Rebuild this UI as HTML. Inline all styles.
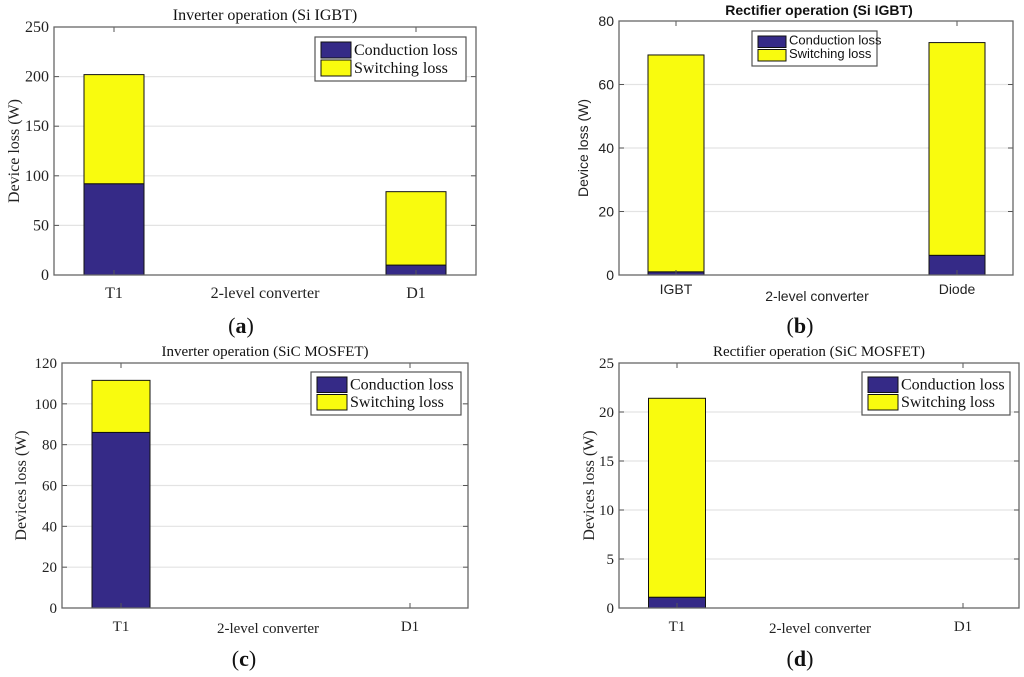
<!DOCTYPE html>
<html><head><meta charset="utf-8"><style>
body{margin:0;background:#fff;width:1024px;height:677px;overflow:hidden}
svg{display:block}
</style></head><body>
<svg id="fig" width="1024" height="677" xmlns="http://www.w3.org/2000/svg"></svg>
<script>
// Panel (a)
const aCats=["T1","D1"];
const aCond=[92,10];
const aSw=[110,74];
const aTicks=[0,50,100,150,200,250];
// Panel (b)
const bCats=["IGBT","Diode"];
const bCond=[1,6.2];
const bSw=[68.3,67];
const bTicks=[0,20,40,60,80];
// Panel (c)
const cCats=["T1","D1"];
const cCond=[86,0];
const cSw=[25.5,0];
const cTicks=[0,20,40,60,80,100,120];
// Panel (d)
const dCats=["T1","D1"];
const dCond=[1.1,0];
const dSw=[20.3,0];
const dTicks=[0,5,10,15,20,25];

const NS="http://www.w3.org/2000/svg";
const svg=document.getElementById('fig');
function el(tag,attrs,parent,text){const e=document.createElementNS(NS,tag);for(const k in attrs)e.setAttribute(k,attrs[k]);if(text!==undefined)e.textContent=text;(parent||svg).appendChild(e);return e;}

function panel(o){
  const g=el('g',{});
  
  
  const ymax=o.ticks[o.ticks.length-1];
  const y=v=>o.bottom-(v/ymax)*(o.bottom-o.top);
  const x=i=>o.catX[i];
  o.ticks.forEach(t=>{
    if(t>0&&t<ymax){const l=el('line',{x1:o.left,x2:o.right,y1:y(t),y2:y(t),stroke:'#e3e3e3','stroke-width':1.2},g);
    }
    const tk=el('line',{x1:o.left,x2:o.left+5,y1:y(t),y2:y(t),stroke:'#555'},g);
    
    const tk2=el('line',{x1:o.right,x2:o.right-5,y1:y(t),y2:y(t),stroke:'#555'},g);
    
    const tl=el('text',{x:o.left-5,y:y(t)+5,'text-anchor':'end','font-family':o.font,'font-size':o.fs,fill:'#222'},g,String(t));
    
  });
  o.cats.forEach((c,i)=>{
    const cx=x(i);
    if(o.cond[i]+o.sw[i]>0){
      const r1=el('rect',{x:cx-o.bw/2,y:y(o.cond[i]),width:o.bw,height:y(0)-y(o.cond[i]),fill:'#352a87',stroke:'#111','stroke-width':1},g);
      
      const r2=el('rect',{x:cx-o.bw/2,y:y(o.cond[i]+o.sw[i]),width:o.bw,height:y(o.cond[i])-y(o.cond[i]+o.sw[i]),fill:'#f9fb0e',stroke:'#111','stroke-width':1},g);
      
    }
    const t1=el('line',{x1:cx,x2:cx,y1:o.bottom,y2:o.bottom-5,stroke:'#555'},g);
    
    const t2=el('line',{x1:cx,x2:cx,y1:o.top,y2:o.top+5,stroke:'#555'},g);
    
    const xl=el('text',{x:cx,y:o.xlY,'text-anchor':'middle','font-family':o.font,'font-size':o.fs,fill:'#222'},g,c);
    
  });
  const box=el('rect',{x:o.left,y:o.top,width:o.right-o.left,height:o.bottom-o.top,fill:'none',stroke:'#666','stroke-width':1.3},g);
  
  const tt=el('text',{x:o.titleX,y:o.titleY,'text-anchor':'middle','font-family':o.font,'font-size':o.tfs||o.fs,'font-weight':o.tw||'normal',fill:'#111'},g,o.title);
  
  const xt=el('text',{x:o.xtX,y:o.xtY,'text-anchor':'middle','font-family':o.font,'font-size':o.fs,fill:'#222'},g,'2-level converter');
  
  const yt=el('text',{x:0,y:0,'text-anchor':'middle','font-family':o.font,'font-size':o.yfs||o.fs,fill:'#222',transform:`translate(${o.ytX},${(o.top+o.bottom)/2}) rotate(-90)`},g,o.ylabel);
  
  const L=o.leg;
  const lg=el('g',{},g);
  
  el('rect',{x:L[0],y:L[1],width:L[2],height:L[3],fill:'#fff',stroke:'#555','stroke-width':1.2},lg);
  const rh=(L[3]-12)/2;
  [['#352a87','Conduction loss'],['#f9fb0e','Switching loss']].forEach((e,k)=>{
    const ey=L[1]+5+k*(rh+2);
    const sw=el('rect',{x:L[0]+6,y:ey,width:o.swW,height:rh,fill:e[0],stroke:'#111'},lg);
    
    const lt=el('text',{x:L[0]+9+o.swW,y:ey+rh-3,'font-family':o.font,'font-size':o.lfs,fill:'#111'},lg,e[1]);
    
  });
  const cap=el('text',{x:o.capX,y:o.capY,'text-anchor':'middle','font-family':'Liberation Serif, serif','font-size':22,fill:'#111'},g);
  
  cap.innerHTML='(<tspan font-weight="bold">'+o.cap+'</tspan>)';
}
const serif='Liberation Serif, serif', sans='Liberation Sans, sans-serif';
panel({name:'panel-a',cats:aCats,cond:aCond,sw:aSw,ticks:aTicks,left:54,right:476,top:27,bottom:275,catX:[114,416],bw:60,font:serif,fs:16,lfs:16,yfs:16,swW:30,
  title:'Inverter operation (Si IGBT)',titleX:265,titleY:20,xtX:265,xtY:298,xlY:298,ytX:19,ylabel:'Device loss (W)',leg:[315,37,151,44],capX:241,capY:333,cap:'a'});
panel({name:'panel-b',cats:bCats,cond:bCond,sw:bSw,ticks:bTicks,left:619,right:1013,top:21,bottom:275,catX:[676,957],bw:56,font:sans,fs:14,lfs:13,tfs:14,tw:'bold',swW:28,
  title:'Rectifier operation (Si IGBT)',titleX:819,titleY:15,xtX:817,xtY:301,xlY:294,ytX:588,ylabel:'Device loss (W)',leg:[752,31,125,35],capX:800,capY:333,cap:'b'});
panel({name:'panel-c',cats:cCats,cond:cCond,sw:cSw,ticks:cTicks,left:62,right:468,top:363,bottom:608,catX:[121,410],bw:58,font:serif,fs:15,lfs:16,yfs:16,swW:30,
  title:'Inverter operation (SiC MOSFET)',titleX:265,titleY:356,xtX:268,xtY:633,xlY:631,ytX:26,ylabel:'Devices loss (W)',leg:[311,372,150,43],capX:244,capY:666,cap:'c'});
panel({name:'panel-d',cats:dCats,cond:dCond,sw:dSw,ticks:dTicks,left:619,right:1019,top:363,bottom:608,catX:[677,963],bw:57,font:serif,fs:15,lfs:16,yfs:16,swW:30,
  title:'Rectifier operation (SiC MOSFET)',titleX:819,titleY:356,xtX:820,xtY:633,xlY:631,ytX:594,ylabel:'Devices loss (W)',leg:[862,372,148,43],capX:800,capY:666,cap:'d'});
</script>
</body></html>
